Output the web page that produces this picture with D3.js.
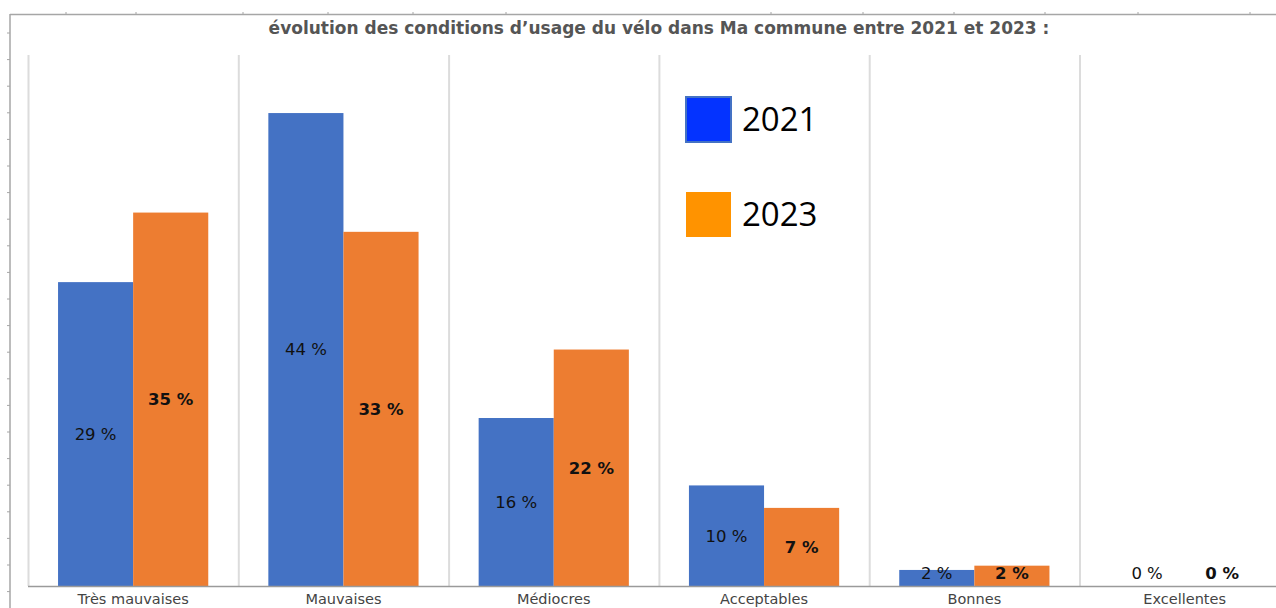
<!DOCTYPE html>
<meta charset="utf-8">
<script src="https://d3js.org/d3.v7.min.js"></script>
<style>
  body { margin: 0; background: #fff; overflow: hidden; }
  svg { display: block; }
</style>
<body>
<div id="viz"></div>
<script>
// data
const categories = ["Très mauvaises", "Mauvaises", "Médiocres", "Acceptables", "Bonnes", "Excellentes"];
const series = ["2021", "2023"];
const values2021 = [28.4, 44.2, 15.7, 9.4, 1.5, 0];
const values2023 = [34.9, 33.1, 22.1, 7.3, 1.9, 0];
const labels2021 = ["29 %", "44 %", "16 %", "10 %", "2 %", "0 %"];
const labels2023 = ["35 %", "33 %", "22 %", "7 %", "2 %", "0 %"];
const frameTicksTop = [66, 136, 243, 328, 413, 506, 771, 863, 954, 1045, 1138, 1250];

const width = 1276, height = 608;
const baseY = 586, plotLeft = 28, step = 210.3;

const svg = d3.select("#viz").append("svg")
  .attr("width", width).attr("height", height);

// frame of the pasted screenshot
const frame = svg.append("g").attr("stroke", "#a6a6a6");
frame.append("line").attr("x1", 10).attr("x2", 10).attr("y1", 14).attr("y2", height).attr("stroke-width", 1.5);
frame.append("line").attr("x1", 10).attr("x2", width).attr("y1", 14.5).attr("y2", 14.5).attr("stroke-width", 1.5);
frame.selectAll(".lt").data(d3.range(33, height, 26.6)).join("line")
  .attr("x1", 7).attr("x2", 10).attr("y1", d => d).attr("y2", d => d);
frame.selectAll(".tt").data(frameTicksTop).join("line")
  .attr("x1", d => d).attr("x2", d => d).attr("y1", 12).attr("y2", 14);

const x0 = d3.scaleBand()
  .domain(categories)
  .range([plotLeft, plotLeft + step * categories.length])
  .padding(0);

const x1 = d3.scaleBand()
  .domain(series)
  .range([0, x0.bandwidth()])
  .paddingInner(0)
  .paddingOuter(0.4);

const y = d3.scaleLinear()
  .domain([0, 50])
  .range([baseY, baseY - 50 * 10.7]);

const color = d3.scaleOrdinal().domain(series).range(["#4472C4", "#ED7D31"]);

// vertical separators between categories
svg.append("g")
  .selectAll("line")
  .data(categories)
  .join("line")
    .attr("x1", d => x0(d) + 0.5)
    .attr("x2", d => x0(d) + 0.5)
    .attr("y1", 55)
    .attr("y2", baseY)
    .attr("stroke", "#dcdcdc")
    .attr("stroke-width", 2);

const rows = categories.map((c, i) => ({
  cat: c,
  vals: [
    {key: "2021", v: values2021[i], label: labels2021[i]},
    {key: "2023", v: values2023[i], label: labels2023[i]}
  ]
}));

const groups = svg.append("g")
  .selectAll("g")
  .data(rows)
  .join("g")
    .attr("transform", d => `translate(${x0(d.cat)},0)`);

groups.selectAll("rect")
  .data(d => d.vals)
  .join("rect")
    .attr("x", d => x1(d.key))
    .attr("y", d => y(d.v))
    .attr("width", x1.bandwidth())
    .attr("height", d => baseY - y(d.v))
    .attr("fill", d => color(d.key));

groups.selectAll("text")
  .data(d => d.vals)
  .join("text")
    .attr("x", d => x1(d.key) + x1.bandwidth() / 2)
    .attr("y", d => Math.min((y(d.v) + baseY) / 2, baseY - 13))
    .attr("dy", "0.36em")
    .attr("text-anchor", "middle")
    .style("font-family", "DejaVu Sans, Verdana, sans-serif")
    .style("font-size", "16.5px")
    .style("font-weight", d => d.key === "2023" ? "bold" : "normal")
    .attr("fill", "#111")
    .text(d => d.label);

// baseline
svg.append("line")
  .attr("x1", plotLeft).attr("x2", width)
  .attr("y1", baseY + 0.5).attr("y2", baseY + 0.5)
  .attr("stroke", "#9a9a9a").attr("stroke-width", 1.5);

// category labels
const xAxis = svg.append("g")
  .attr("transform", `translate(0,${baseY})`)
  .call(d3.axisBottom(x0).tickSize(0).tickPadding(8));
xAxis.select(".domain").remove();
xAxis.selectAll("text")
  .style("font-family", "DejaVu Sans, Verdana, sans-serif")
  .style("font-size", "14.5px")
  .attr("dy", "0.68em")
  .attr("fill", "#444");

// title
svg.append("text")
  .attr("x", 659)
  .attr("y", 34)
  .attr("text-anchor", "middle")
  .style("font-family", "DejaVu Sans, Verdana, sans-serif")
  .style("font-size", "17px")
  .style("font-weight", "bold")
  .attr("fill", "#555")
  .text("évolution des conditions d’usage du vélo dans Ma commune entre 2021 et 2023 :");

// legend
const legendColors = ["#0433FF", "#FF9300"];
const legend = svg.append("g")
  .selectAll("g")
  .data(series)
  .join("g")
    .attr("transform", (d, i) => `translate(686,${97 + i * 95})`);
legend.append("rect")
  .attr("width", 45).attr("height", 45)
  .attr("fill", (d, i) => legendColors[i])
  .attr("stroke", (d, i) => i === 0 ? "#4472C4" : "none")
  .attr("stroke-width", 2);
legend.append("text")
  .attr("x", 56)
  .attr("y", 34)
  .style("font-family", "Open Sans, Carlito, sans-serif")
  .style("font-size", "33px")
  .attr("fill", "#000")
  .text(d => d);
</script>
</body>
